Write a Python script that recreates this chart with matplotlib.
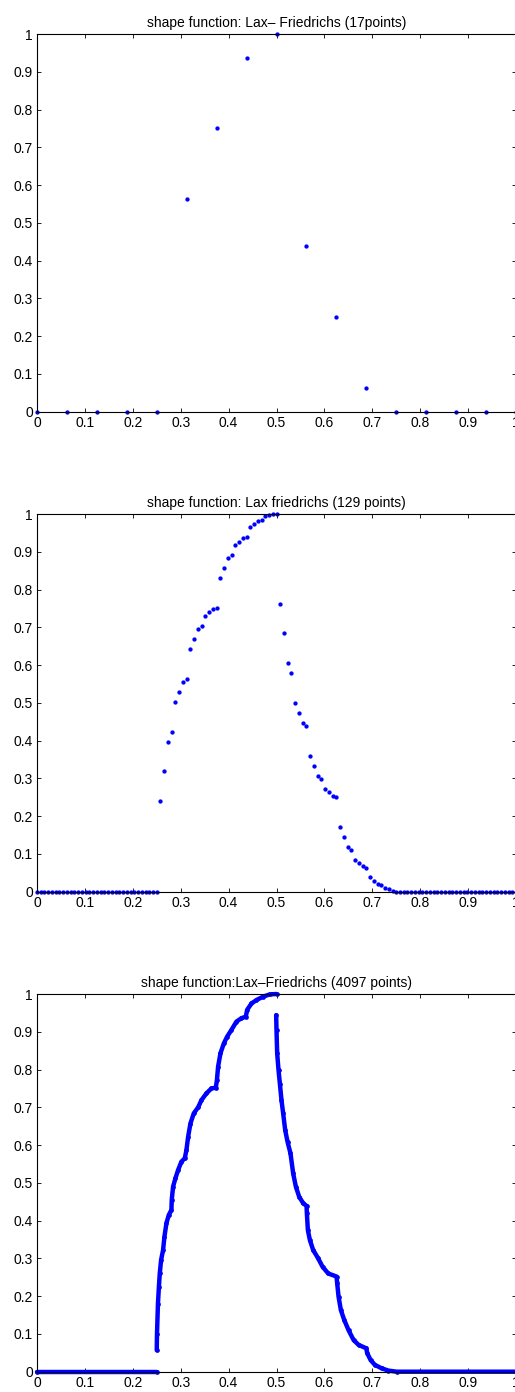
import numpy as np
import matplotlib
matplotlib.use("Agg")
import matplotlib.pyplot as plt
from matplotlib.ticker import FormatStrFormatter

plt.rcParams['font.family'] = ['Liberation Sans', 'DejaVu Sans']

# 17 point grid
y17 = [0, 0, 0, 0, 0, 0.5625, 0.75, 0.9375, 1.0, 0.4375, 0.25, 0.0625,
       0, 0, 0, 0, 0]

# 129 point grid (values from index 33 to 95, rest are zero)
y129_mid = [0.240, 0.319, 0.397, 0.424, 0.502, 0.529, 0.555, 0.564, 0.643,
            0.669, 0.696, 0.704, 0.731, 0.740, 0.748, 0.752, 0.831, 0.856,
            0.883, 0.891, 0.918, 0.927, 0.936, 0.938, 0.965, 0.974, 0.982,
            0.985, 0.994, 0.997, 1.0, 1.0, 0.763, 0.684, 0.605, 0.578,
            0.500, 0.473, 0.447, 0.439, 0.359, 0.333, 0.307, 0.298, 0.272,
            0.263, 0.254, 0.251, 0.172, 0.146, 0.119, 0.111, 0.085, 0.076,
            0.067, 0.064, 0.038, 0.029, 0.020, 0.018, 0.009, 0.006, 0.003]
y129 = [0.0] * 33 + y129_mid + [0.0] * (129 - 33 - len(y129_mid))

# 4097 point curve
flat_x = [0.0, 0.25]
flat_y = [0.0, 0.0]
rise_x = [0.2500, 0.2505, 0.2525, 0.2545, 0.2563, 0.2591, 0.2632, 0.2660,
          0.2702, 0.2751, 0.2806, 0.2813, 0.2841, 0.2890, 0.2946, 0.3015,
          0.3085, 0.3120, 0.3155, 0.3203, 0.3273, 0.3364, 0.3433, 0.3538,
          0.3642, 0.3733, 0.3756, 0.3781, 0.3830, 0.3900, 0.3969, 0.4060,
          0.4164, 0.4269, 0.4359, 0.4387, 0.4478, 0.4582, 0.4721, 0.4861,
          0.5000]
rise_y = [0.057, 0.10, 0.18, 0.225, 0.26, 0.296, 0.322, 0.357, 0.393, 0.415,
          0.428, 0.455, 0.49, 0.512, 0.534, 0.556, 0.565, 0.587, 0.622, 0.657,
          0.684, 0.70, 0.719, 0.737, 0.75, 0.752, 0.772, 0.808, 0.843, 0.869,
          0.887, 0.905, 0.927, 0.936, 0.94, 0.958, 0.975, 0.984, 0.993, 0.999,
          1.0]
fall_x = [0.4993, 0.5000, 0.5014, 0.5042, 0.5070, 0.5104, 0.5139, 0.5181,
          0.5230, 0.5292, 0.5348, 0.5404, 0.5474, 0.5557, 0.5627, 0.5634,
          0.5655, 0.5696, 0.5766, 0.5870, 0.5961, 0.6080, 0.6253, 0.6267,
          0.6295, 0.6344, 0.6414, 0.6504, 0.6609, 0.6713, 0.6874, 0.6894,
          0.6964, 0.7054, 0.7194, 0.7333, 0.7507, 1.0]
fall_y = [0.944, 0.905, 0.843, 0.799, 0.763, 0.719, 0.684, 0.64, 0.609,
          0.578, 0.525, 0.49, 0.463, 0.446, 0.439, 0.419, 0.375, 0.349,
          0.322, 0.30, 0.278, 0.26, 0.252, 0.234, 0.199, 0.163, 0.137, 0.11,
          0.084, 0.071, 0.062, 0.049, 0.031, 0.018, 0.009, 0.003, 0.0, 0.0]

titles = ['shape function: Lax\u2013 Friedrichs (17points)',
          'shape function: Lax friedrichs (129 points)',
          'shape function:Lax\u2013Friedrichs (4097 points)']

W, H = 515, 1392
fig = plt.figure(figsize=(W / 100, H / 100), dpi=100)

left = 37 / W
width = (516 - 37) / W
height = 377.7 / H
bottoms = [1 - 411.7 / H, 1 - 891.7 / H, 1 - 1371.7 / H]
axes = [fig.add_axes([left, b, width, height]) for b in bottoms]

blue = (0, 0, 1)
axes[0].plot(np.linspace(0, 1, 17), y17, 'o', color=blue, ms=3.1, mew=0)
axes[1].plot(np.linspace(0, 1, 129), y129, 'o', color=blue, ms=3.1, mew=0)
for xs, ys in [(flat_x, flat_y), (rise_x, rise_y), (fall_x, fall_y)]:
    axes[2].plot(xs, ys, '-', color=blue, lw=3.2, solid_capstyle='round')
    axes[2].plot(xs, ys, 'o', color=blue, ms=3.4, mew=0)

for ax, t in zip(axes, titles):
    ax.set_xlim(0, 1)
    ax.set_ylim(0, 1)
    ax.set_xticks(np.arange(0, 1.01, 0.1))
    ax.set_yticks(np.arange(0, 1.01, 0.1))
    ax.xaxis.set_major_formatter(FormatStrFormatter('%g'))
    ax.yaxis.set_major_formatter(FormatStrFormatter('%g'))
    ax.tick_params(direction='in', length=3, width=0.6, top=True, right=True,
                   labelsize=10, pad=3)
    for s in ax.spines.values():
        s.set_linewidth(0.8)
    ax.set_title(t, fontsize=10, pad=5)
    for line in ax.lines:
        line.set_clip_on(False)

fig.savefig('out.png', dpi=100)
